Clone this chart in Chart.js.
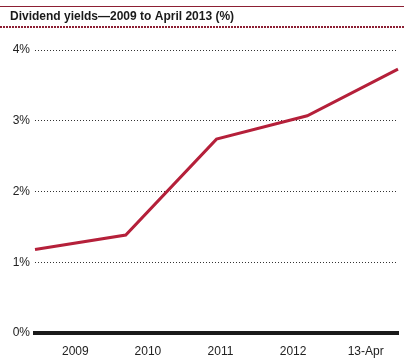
<!DOCTYPE html>
<html>
<head>
<meta charset="utf-8">
<script src="https://cdn.jsdelivr.net/npm/chart.js@4/dist/chart.umd.min.js"></script>
<style>
  html, body { margin: 0; padding: 0; background: #fff; }
  #wrap { position: relative; width: 413px; height: 364px; }
</style>
</head>
<body>
<div id="wrap"><canvas id="yieldChart" width="413" height="364"></canvas></div>
<script>
const categories = ['2009', '2010', '2011', '2012', '13-Apr'];
const yieldValues = [1.18, 1.385, 2.74, 3.07, 3.73];
const yTicks = [0, 1, 2, 3, 4];

const titleText = 'Dividend yields\u20142009 to April 2013 (%)';
const headerRed = '#8c1f33';

// top rule and dotted rule under the title
const headerRules = {
  id: 'headerRules',
  beforeDraw(chart) {
    const ctx = chart.ctx;
    ctx.save();
    ctx.strokeStyle = headerRed;
    ctx.lineWidth = 1;
    ctx.beginPath();
    ctx.moveTo(0, 6.5);
    ctx.lineTo(404, 6.5);
    ctx.stroke();
    ctx.lineWidth = 2;
    ctx.setLineDash([2, 1]);
    ctx.beginPath();
    ctx.moveTo(0, 27);
    ctx.lineTo(404, 27);
    ctx.stroke();
    ctx.restore();
  },
};

new Chart(document.getElementById('yieldChart'), {
  type: 'line',
  data: {
    labels: categories,
    datasets: [
      {
        label: 'Dividend yield',
        data: yieldValues,
        xAxisID: 'xLine',
        borderColor: '#b5203a',
        borderWidth: 3,
        pointRadius: 0,
        tension: 0,
        borderJoinStyle: 'miter',
      },
    ],
  },
  options: {
    responsive: false,
    animation: false,
    layout: { padding: { left: 10, right: 15, top: 0, bottom: 0 } },
    plugins: {
      legend: { display: false },
      tooltip: { enabled: false },
      title: {
        display: true,
        text: titleText,
        align: 'start',
        color: '#1a1a1a',
        font: { family: 'Liberation Sans', size: 12, weight: 'bold' },
        padding: { top: 9, bottom: 26.6 },
      },
    },
    scales: {
      xLine: {
        type: 'category',
        labels: categories,
        offset: false,
        display: false,
      },
      x: {
        type: 'category',
        labels: categories,
        offset: true,
        grid: { display: false, drawTicks: false },
        border: { display: true, color: '#1a1a1a', width: 4 },
        ticks: {
          color: '#222',
          padding: 11,
          labelOffset: 4,
          maxRotation: 0,
          font: { family: 'Liberation Sans', size: 12 },
        },
        afterFit: (axis) => { axis.height = 31; },
      },
      y: {
        min: yTicks[0],
        max: yTicks[yTicks.length - 1],
        afterBuildTicks: (axis) => { axis.ticks = yTicks.map((v) => ({ value: v })); },
        grid: {
          drawTicks: false,
          color: (ctx) => (ctx.tick && ctx.tick.value === 0 ? 'rgba(0,0,0,0)' : '#333'),
          lineWidth: 1,
        },
        border: { display: false, dash: [1, 2] },
        ticks: {
          color: '#222',
          padding: 5,
          font: { family: 'Liberation Sans', size: 12 },
          callback: (value) => `${value}%`,
        },
        afterFit: (axis) => { axis.width = 25; },
      },
    },
  },
  plugins: [headerRules],
});
</script>
</body>
</html>
